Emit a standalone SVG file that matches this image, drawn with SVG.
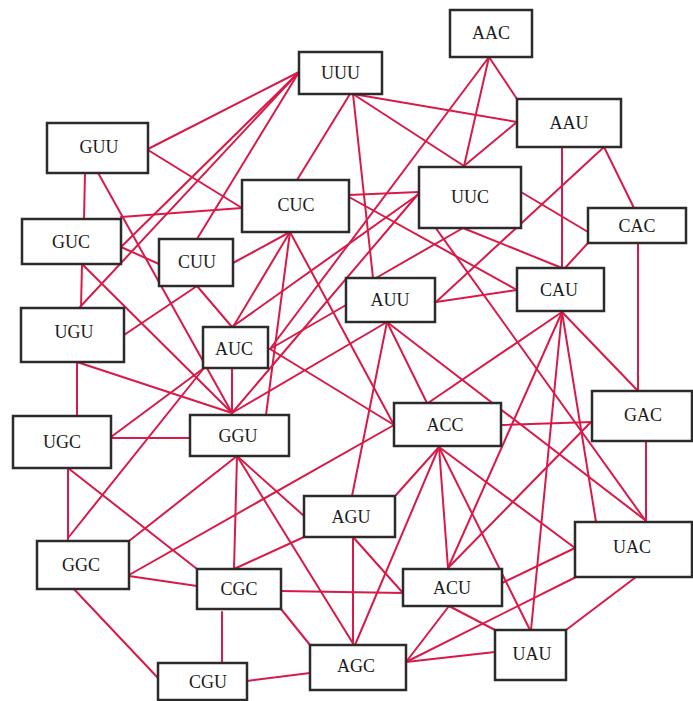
<svg xmlns="http://www.w3.org/2000/svg" width="693" height="701" viewBox="0 0 693 701">
<style>
.e line{stroke:#d91a48;stroke-width:2;stroke-linecap:round}
.n rect{fill:#fff;stroke:#2b2b2b;stroke-width:2.5}
.n text{font-family:"Liberation Serif","Times New Roman",serif;font-size:18px;fill:#1a1a1a;text-anchor:middle}
</style>
<rect width="693" height="701" fill="#fff"/>
<g id="connectors" class="e">
<line x1="148" y1="149" x2="299" y2="72"/>
<line x1="148" y1="150" x2="242" y2="208"/>
<line x1="85" y1="173" x2="84" y2="219"/>
<line x1="97" y1="171" x2="232" y2="413"/>
<line x1="121" y1="247" x2="299" y2="72"/>
<line x1="80" y1="307" x2="299" y2="72"/>
<line x1="197" y1="239" x2="299" y2="72"/>
<line x1="297" y1="180" x2="350" y2="94"/>
<line x1="353" y1="94" x2="517" y2="122"/>
<line x1="353" y1="94" x2="464" y2="166"/>
<line x1="353" y1="94" x2="373" y2="278"/>
<line x1="121" y1="217" x2="242" y2="208"/>
<line x1="121" y1="247" x2="159" y2="264"/>
<line x1="82" y1="264" x2="81" y2="308"/>
<line x1="82" y1="264" x2="232" y2="413"/>
<line x1="233" y1="263" x2="290" y2="232"/>
<line x1="197" y1="286" x2="124" y2="335"/>
<line x1="197" y1="286" x2="232" y2="327"/>
<line x1="290" y1="232" x2="233" y2="327"/>
<line x1="290" y1="232" x2="266" y2="415"/>
<line x1="290" y1="232" x2="394" y2="425"/>
<line x1="349" y1="195" x2="419" y2="192"/>
<line x1="349" y1="197" x2="517" y2="290"/>
<line x1="489" y1="57" x2="517" y2="99"/>
<line x1="489" y1="57" x2="464" y2="166"/>
<line x1="489" y1="57" x2="270" y2="349"/>
<line x1="517" y1="122" x2="464" y2="166"/>
<line x1="562" y1="147" x2="562" y2="268"/>
<line x1="604" y1="147" x2="634" y2="208"/>
<line x1="604" y1="147" x2="436" y2="302"/>
<line x1="521" y1="192" x2="588" y2="232"/>
<line x1="463" y1="228" x2="562" y2="268"/>
<line x1="463" y1="228" x2="376" y2="278"/>
<line x1="419" y1="193" x2="232" y2="413"/>
<line x1="419" y1="194" x2="232" y2="327"/>
<line x1="435" y1="227" x2="645" y2="520"/>
<line x1="588" y1="243" x2="565" y2="268"/>
<line x1="638" y1="243" x2="638" y2="391"/>
<line x1="436" y1="302" x2="517" y2="290"/>
<line x1="346" y1="305" x2="270" y2="349"/>
<line x1="387" y1="322" x2="232" y2="413"/>
<line x1="387" y1="322" x2="427" y2="403"/>
<line x1="387" y1="322" x2="645" y2="520"/>
<line x1="387" y1="322" x2="352" y2="496"/>
<line x1="77" y1="362" x2="77" y2="416"/>
<line x1="77" y1="362" x2="232" y2="413"/>
<line x1="232" y1="368" x2="232" y2="413"/>
<line x1="204" y1="368" x2="111" y2="437"/>
<line x1="204" y1="368" x2="68" y2="538"/>
<line x1="270" y1="349" x2="394" y2="425"/>
<line x1="111" y1="438" x2="190" y2="438"/>
<line x1="68" y1="468" x2="68" y2="541"/>
<line x1="68" y1="468" x2="197" y2="569"/>
<line x1="237" y1="456" x2="129" y2="541"/>
<line x1="237" y1="456" x2="234" y2="569"/>
<line x1="237" y1="456" x2="304" y2="516"/>
<line x1="237" y1="456" x2="354" y2="645"/>
<line x1="129" y1="575" x2="394" y2="425"/>
<line x1="129" y1="576" x2="197" y2="586"/>
<line x1="72" y1="587" x2="158" y2="678"/>
<line x1="234" y1="569" x2="304" y2="537"/>
<line x1="281" y1="591" x2="403" y2="593"/>
<line x1="281" y1="609" x2="310" y2="645"/>
<line x1="222" y1="612" x2="222" y2="663"/>
<line x1="247" y1="681" x2="310" y2="673"/>
<line x1="439" y1="447" x2="396" y2="495"/>
<line x1="439" y1="447" x2="355" y2="645"/>
<line x1="439" y1="447" x2="448" y2="568"/>
<line x1="439" y1="447" x2="530" y2="630"/>
<line x1="439" y1="447" x2="575" y2="548"/>
<line x1="501" y1="425" x2="592" y2="422"/>
<line x1="428" y1="403" x2="562" y2="312"/>
<line x1="562" y1="312" x2="448" y2="568"/>
<line x1="562" y1="312" x2="531" y2="630"/>
<line x1="562" y1="312" x2="596" y2="522"/>
<line x1="562" y1="312" x2="638" y2="391"/>
<line x1="646" y1="441" x2="646" y2="522"/>
<line x1="591" y1="422" x2="448" y2="568"/>
<line x1="575" y1="548" x2="502" y2="583"/>
<line x1="576" y1="577" x2="406" y2="662"/>
<line x1="636" y1="577" x2="566" y2="630"/>
<line x1="449" y1="606" x2="406" y2="662"/>
<line x1="449" y1="606" x2="495" y2="630"/>
<line x1="495" y1="652" x2="406" y2="662"/>
<line x1="353" y1="537" x2="353" y2="645"/>
<line x1="353" y1="537" x2="403" y2="593"/>
</g>
<g id="UUU" class="n"><rect x="299" y="52" width="83" height="42"/><text x="340.5" y="79">UUU</text></g>
<g id="AAC" class="n"><rect x="450" y="10" width="82" height="47"/><text x="491" y="39">AAC</text></g>
<g id="GUU" class="n"><rect x="47" y="123" width="101" height="50"/><text x="99" y="153">GUU</text></g>
<g id="AAU" class="n"><rect x="517" y="99" width="104" height="48"/><text x="569" y="129">AAU</text></g>
<g id="CUC" class="n"><rect x="242" y="180" width="107" height="52"/><text x="296" y="211">CUC</text></g>
<g id="UUC" class="n"><rect x="419" y="167" width="102" height="61"/><text x="470" y="203">UUC</text></g>
<g id="CAC" class="n"><rect x="588" y="208" width="98" height="35"/><text x="637" y="232">CAC</text></g>
<g id="GUC" class="n"><rect x="22" y="219" width="99" height="45"/><text x="71" y="248">GUC</text></g>
<g id="CUU" class="n"><rect x="159" y="239" width="74" height="47"/><text x="197" y="268">CUU</text></g>
<g id="AUU" class="n"><rect x="346" y="278" width="89" height="44"/><text x="390" y="306">AUU</text></g>
<g id="CAU" class="n"><rect x="517" y="268" width="87" height="43"/><text x="559" y="296">CAU</text></g>
<g id="UGU" class="n"><rect x="21" y="308" width="103" height="54"/><text x="74" y="338">UGU</text></g>
<g id="AUC" class="n"><rect x="203" y="327" width="65" height="41"/><text x="234" y="355">AUC</text></g>
<g id="UGC" class="n"><rect x="13" y="416" width="98" height="52"/><text x="62" y="448">UGC</text></g>
<g id="GGU" class="n"><rect x="190" y="415" width="99" height="41"/><text x="238" y="442">GGU</text></g>
<g id="ACC" class="n"><rect x="394" y="403" width="107" height="43"/><text x="445" y="431">ACC</text></g>
<g id="GAC" class="n"><rect x="592" y="391" width="100" height="50"/><text x="643" y="421">GAC</text></g>
<g id="AGU" class="n"><rect x="304" y="496" width="91" height="41"/><text x="351" y="523">AGU</text></g>
<g id="GGC" class="n"><rect x="37" y="541" width="92" height="48"/><text x="81" y="571">GGC</text></g>
<g id="UAC" class="n"><rect x="575" y="522" width="117" height="55"/><text x="632" y="553">UAC</text></g>
<g id="CGC" class="n"><rect x="197" y="569" width="84" height="40"/><text x="239" y="595">CGC</text></g>
<g id="ACU" class="n"><rect x="403" y="569" width="99" height="37"/><text x="452" y="594">ACU</text></g>
<g id="AGC" class="n"><rect x="310" y="645" width="96" height="45"/><text x="356" y="672">AGC</text></g>
<g id="UAU" class="n"><rect x="495" y="630" width="71" height="50"/><text x="532" y="660">UAU</text></g>
<g id="CGU" class="n"><rect x="158" y="663" width="89" height="37"/><text x="208" y="688">CGU</text></g>
</svg>
